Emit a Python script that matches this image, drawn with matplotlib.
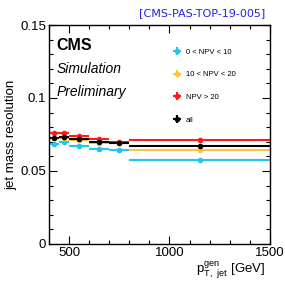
import matplotlib
matplotlib.use("Agg")
import matplotlib.pyplot as plt
from matplotlib.ticker import MultipleLocator
import numpy as np

plt.rcParams['font.family'] = ['Liberation Sans', 'DejaVu Sans']

bin_edges = [400, 450, 500, 600, 700, 800, 1500]
labels = ["0 < NPV < 10", "10 < NPV < 20", "NPV > 20", "all"]
colors = ["#22c4f2", "#ffc43a", "#ff1a1a", "#000000"]
res_low = [0.0683, 0.0697, 0.0671, 0.0651, 0.0643, 0.0574]
res_mid = [0.0724, 0.0724, 0.0712, 0.0690, 0.0690, 0.0643]
res_high = [0.0762, 0.0760, 0.0742, 0.0721, 0.0695, 0.0711]
res_all = [0.0728, 0.0731, 0.0717, 0.0695, 0.0692, 0.0672]
err_low = [0.0007, 0.0007, 0.0007, 0.0008, 0.0009, 0.0014]
err_mid = [0.0006, 0.0006, 0.0006, 0.0007, 0.0008, 0.0012]
err_high = [0.0008, 0.0008, 0.0008, 0.0009, 0.0010, 0.0015]
err_all = [0.0004, 0.0004, 0.0004, 0.0005, 0.0006, 0.0009]

edges = np.array(bin_edges)
centers = 0.5 * (edges[:-1] + edges[1:])
halfw = 0.5 * (edges[1:] - edges[:-1])

fig = plt.figure(figsize=(2.85, 2.81), dpi=100)
ax = fig.add_axes([0.172, 0.132, 0.775, 0.779])

series = [res_low, res_mid, res_high, res_all]
errs = [err_low, err_mid, err_high, err_all]
for vals, e, c, lab in zip(series, errs, colors, labels):
    ax.errorbar(centers, vals, xerr=halfw, yerr=e, fmt='o', color=c, ms=3,
                elinewidth=1.5, capsize=0, label=lab)

ax.set_xlim(400, 1500)
ax.set_ylim(0, 0.15)
ax.xaxis.set_major_locator(MultipleLocator(500))
ax.xaxis.set_minor_locator(MultipleLocator(100))
ax.yaxis.set_major_locator(MultipleLocator(0.05))
ax.yaxis.set_minor_locator(MultipleLocator(0.01))
ax.set_yticks([0, 0.05, 0.1, 0.15])
ax.set_yticklabels(["0", "0.05", "0.1", "0.15"])
ax.tick_params(which='both', direction='in', top=True, right=True, labelsize=9.5, pad=2)
ax.tick_params(which='major', length=6, width=0.8)
ax.tick_params(which='minor', length=3, width=0.8)
for s in ax.spines.values():
    s.set_linewidth(1.0)

ax.set_ylabel("jet mass resolution", fontsize=9.5, labelpad=2)
ax.set_xlabel(r"$\mathregular{p_{T,\ jet}^{gen}}$ [GeV]", fontsize=9.5, loc='right', labelpad=0)
ax.xaxis.set_label_coords(0.98, -0.075)

ax.text(0.035, 0.885, "CMS", transform=ax.transAxes, fontsize=11.5, fontweight='bold')
ax.text(0.035, 0.78, "Simulation", transform=ax.transAxes, fontsize=10, style='italic')
ax.text(0.035, 0.675, "Preliminary", transform=ax.transAxes, fontsize=10, style='italic')

leg = ax.legend(loc='upper left', bbox_to_anchor=(0.52, 0.925), frameon=False,
                fontsize=5.5, labelspacing=2.0, handlelength=1.6, handletextpad=0.4)

fig.text(0.93, 0.953, "[CMS-PAS-TOP-19-005]", color='#2222ee', fontsize=8,
         ha='right', va='center', family='DejaVu Sans')

fig.savefig("out.png", dpi=100)
